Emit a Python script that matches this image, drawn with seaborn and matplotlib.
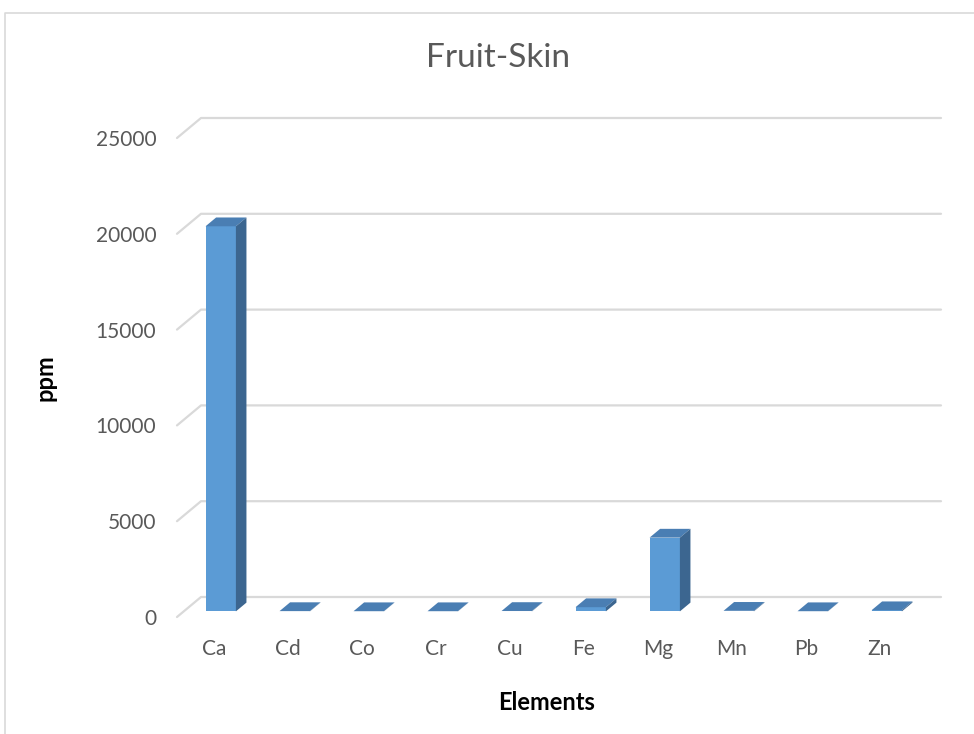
import matplotlib
matplotlib.use("Agg")
import matplotlib.pyplot as plt
from matplotlib.patches import Polygon
from matplotlib.lines import Line2D
import seaborn as sns
import pandas as pd

# data
elements = ["Ca", "Cd", "Co", "Cr", "Cu", "Fe", "Mg", "Mn", "Pb", "Zn"]
ppm = [20100, 15, 10, 10, 20, 220, 3850, 30, 10, 60]
y_ticks = [0, 5000, 10000, 15000, 20000, 25000]

FRONT = "#5B9BD5"
TOP = "#4A7EB3"
SIDE = "#3C6690"
GRID = "#D9D9D9"
TXT = "#595959"

sns.set_theme(style="white")
plt.rcParams["font.family"] = ["Lato", "DejaVu Sans"]

W, H = 974, 734
fig = plt.figure(figsize=(W / 100, H / 100), dpi=100)

# front plane of the 3d box, in pixels
left_px, right_px, bottom_px, top_px = 177, 917, 617, 138
ax = fig.add_axes([left_px / W, 1 - bottom_px / H,
                   (right_px - left_px) / W, (bottom_px - top_px) / H])
ax.set_xlim(-0.5, len(elements) - 0.5)
ax.set_ylim(0, 25000)

# depth offset of the back wall (24 px right, 20 px up) in data units
dx = 24 * len(elements) / (right_px - left_px)
dy = 20 * 25000 / (bottom_px - top_px)

# back-wall gridlines + side diagonals
x0, x1 = -0.5, len(elements) - 0.5
for v in y_ticks:
    ax.add_line(Line2D([x0, x0 + dx, x1 + dx], [v, v + dy, v + dy],
                       color=GRID, lw=1.6, clip_on=False, zorder=1))

df = pd.DataFrame({"Elements": elements, "ppm": ppm})
bw = 0.41
f0, f1 = 0.28, 0.72
sns.barplot(data=df, x="Elements", y="ppm", color=FRONT, saturation=1,
            width=bw, ax=ax, zorder=3)

d = f1 - f0
for patch, v in zip(ax.patches, ppm):
    patch.set_x(patch.get_x() + f0 * dx)
    patch.set_y(f0 * dy)
    patch.set_edgecolor("none")
    bx0 = patch.get_x()
    bx1 = bx0 + patch.get_width()
    yb = f0 * dy
    yt = v + f0 * dy
    top = Polygon([(bx0, yt), (bx1, yt), (bx1 + d * dx, yt + d * dy),
                   (bx0 + d * dx, yt + d * dy)], closed=True,
                  facecolor=TOP, edgecolor="none", clip_on=False, zorder=4)
    side = Polygon([(bx1, yb), (bx1 + d * dx, yb + d * dy),
                    (bx1 + d * dx, yt + d * dy), (bx1, yt)], closed=True,
                   facecolor=SIDE, edgecolor="none", clip_on=False, zorder=4)
    ax.add_patch(top)
    ax.add_patch(side)

for s in ax.spines.values():
    s.set_visible(False)
ax.set_yticks(y_ticks)
ax.set_yticklabels([str(t) for t in y_ticks])
ax.tick_params(axis="y", length=0, pad=15, labelsize=15, labelcolor=TXT)
ax.tick_params(axis="x", length=0, pad=16, labelsize=15, labelcolor=TXT)
ax.set_xlabel("Elements", fontsize=17, fontweight="bold", color="black", labelpad=23)
ax.set_ylabel("ppm", fontsize=17, fontweight="bold", color="black", labelpad=28)
ax.patch.set_alpha(0)

fig.text(498 / W, 1 - 58 / H, "Fruit-Skin", ha="center", va="center",
         fontsize=24, color=TXT)

# chart area border
fig.add_artist(Line2D([5 / W, 5 / W, 1], [0, 1 - 13 / H, 1 - 13 / H],
                      transform=fig.transFigure, color=GRID, lw=1.2))

fig.savefig("out.png", dpi=100)
